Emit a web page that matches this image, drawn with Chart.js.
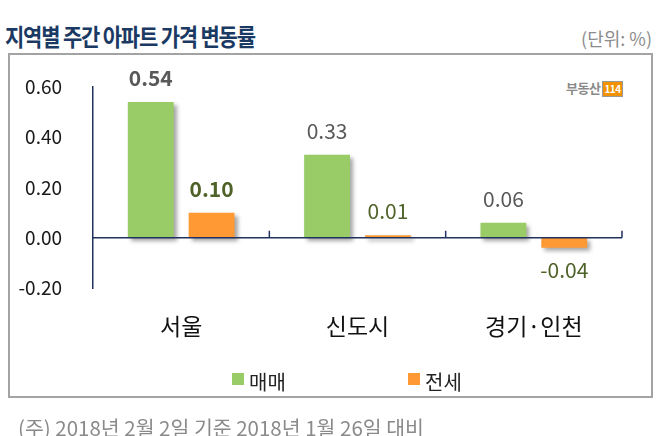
<!DOCTYPE html>
<html><head><meta charset="utf-8">
<script src="https://cdn.jsdelivr.net/npm/chart.js@4/dist/chart.umd.min.js"></script>
<style>
html,body{margin:0;padding:0;background:#fff;}
#wrap{position:relative;width:658px;height:436px;overflow:hidden;font-family:"Noto Sans CJK KR","Noto Sans",sans-serif;}
#title{position:absolute;left:5px;top:21px;font-size:21px;font-weight:bold;color:#1B3A63;line-height:30px;white-space:nowrap;letter-spacing:-1.2px;transform:scaleY(1.15);transform-origin:0 50%;}
#unit{position:absolute;right:6px;top:25px;font-size:18px;color:#8c8c8c;line-height:26px;white-space:nowrap;}
#box{position:absolute;left:8px;top:53px;width:641px;height:341px;border:2px solid #a3a3a3;}
#chart{position:absolute;left:0;top:0;}
.lg{position:absolute;top:369px;height:26px;line-height:26px;font-size:20px;color:#222;white-space:nowrap;}
.sq{position:absolute;top:373px;width:12px;height:12px;}
#note{position:absolute;left:18px;top:413px;font-size:20.5px;line-height:28px;color:#8a8a8a;white-space:nowrap;}
#logo{position:absolute;left:566px;top:80px;height:16px;line-height:16px;font-size:13px;font-weight:bold;color:#8a8a8a;white-space:nowrap;letter-spacing:-0.5px;}
#logo span{display:inline-block;background:#F39200;color:#fff;font-size:10px;line-height:14px;padding:0 1px;border:1px solid #999;margin-left:2px;vertical-align:middle;}
</style></head>
<body>
<div id="wrap">
  <div id="title">지역별 주간 아파트 가격 변동률</div>
  <div id="unit">(단위: %)</div>
  <div id="box"></div>
  <div id="logo">부동산<span>114</span></div>
  <canvas id="chart" width="658" height="436"></canvas>
  <div class="sq" style="left:232px;background:#99CC66;"></div>
  <div class="lg" id="lg0" style="left:249px;"></div>
  <div class="sq" style="left:408px;background:#FF9933;"></div>
  <div class="lg" id="lg1" style="left:425px;"></div>
  <div id="note">(주) 2018년 2월 2일 기준 2018년 1월 26일 대비</div>
</div>
<script>
const categories = ['서울', '신도시', '경기·인천'];
const seriesNames = ['매매', '전세'];
const saleValues = [0.54, 0.33, 0.06];
const jeonseValues = [0.10, 0.01, -0.04];
const yTicks = [-0.2, 0, 0.2, 0.4, 0.6];

document.getElementById('lg0').textContent = seriesNames[0];
document.getElementById('lg1').textContent = seriesNames[1];

const FONT = '"Noto Sans CJK KR", "Noto Sans", sans-serif';

const decor = {
  id: 'decor',
  beforeDatasetsDraw(chart) {
    const ctx = chart.ctx;
    ctx.save();
    ctx.shadowColor = 'rgba(0,0,0,0.35)';
    ctx.shadowBlur = 4;
    ctx.shadowOffsetX = 3;
    ctx.shadowOffsetY = 3;
  },
  afterDatasetsDraw(chart, args, opts) {
    const ctx = chart.ctx;
    ctx.restore();
    const x = chart.scales.x, y = chart.scales.y, area = chart.chartArea;
    const y0 = y.getPixelForValue(0);
    ctx.save();
    ctx.strokeStyle = '#22325F';
    ctx.lineWidth = 1.5;
    ctx.beginPath();
    ctx.moveTo(area.left, y0);
    ctx.lineTo(area.right, y0);
    const n = categories.length;
    for (let i = 0; i < n; i++) {
      const bx = i < n - 1 ? (x.getPixelForValue(i) + x.getPixelForValue(i + 1)) / 2 : area.right;
      ctx.moveTo(bx, y0);
      ctx.lineTo(bx, y0 - 7);
    }
    ctx.stroke();
    ctx.textAlign = 'center';
    ctx.textBaseline = 'middle';
    chart.data.datasets.forEach((ds, di) => {
      const meta = chart.getDatasetMeta(di);
      meta.data.forEach((bar, i) => {
        const v = ds.data[i];
        const bold = opts.boldIndex === i;
        ctx.font = (bold ? 'bold ' : '') + '21px ' + FONT;
        ctx.fillStyle = opts.colors[di];
        const ty = v >= 0 ? bar.y - 24 : bar.y + 22;
        ctx.fillText(v.toFixed(2), bar.x, ty);
      });
    });
    ctx.restore();
  }
};

new Chart(document.getElementById('chart'), {
  type: 'bar',
  data: {
    labels: categories,
    datasets: [
      { label: seriesNames[0], data: saleValues, backgroundColor: '#99CC66', borderWidth: 0,
        categoryPercentage: 0.69, barPercentage: 0.754 },
      { label: seriesNames[1], data: jeonseValues, backgroundColor: '#FF9933', borderWidth: 0,
        categoryPercentage: 0.69, barPercentage: 0.754 }
    ]
  },
  options: {
    responsive: false,
    devicePixelRatio: 1,
    animation: false,
    layout: { padding: { top: 87, left: 0, right: 36, bottom: 98 } },
    plugins: {
      legend: { display: false },
      tooltip: { enabled: false },
      decor: { boldIndex: 0, colors: ['#595959', '#4F6228'] }
    },
    scales: {
      x: {
        grid: { display: false, drawTicks: false },
        border: { display: false },
        ticks: { font: { size: 23, family: FONT }, color: '#111', padding: 24 },
        afterFit(s) { s.height = 50; }
      },
      y: {
        min: -0.2, max: 0.6,
        grid: { display: false, drawTicks: false },
        border: { display: true, color: '#22325F', width: 1.5 },
        ticks: { font: { size: 19, family: FONT }, color: '#1a1a1a', padding: 31,
                 callback: v => v.toFixed(2) },
        afterBuildTicks(s) { s.ticks = yTicks.map(v => ({ value: v })); },
        afterFit(s) { s.width = 93; }
      }
    }
  },
  plugins: [decor]
});
</script>
</body></html>
